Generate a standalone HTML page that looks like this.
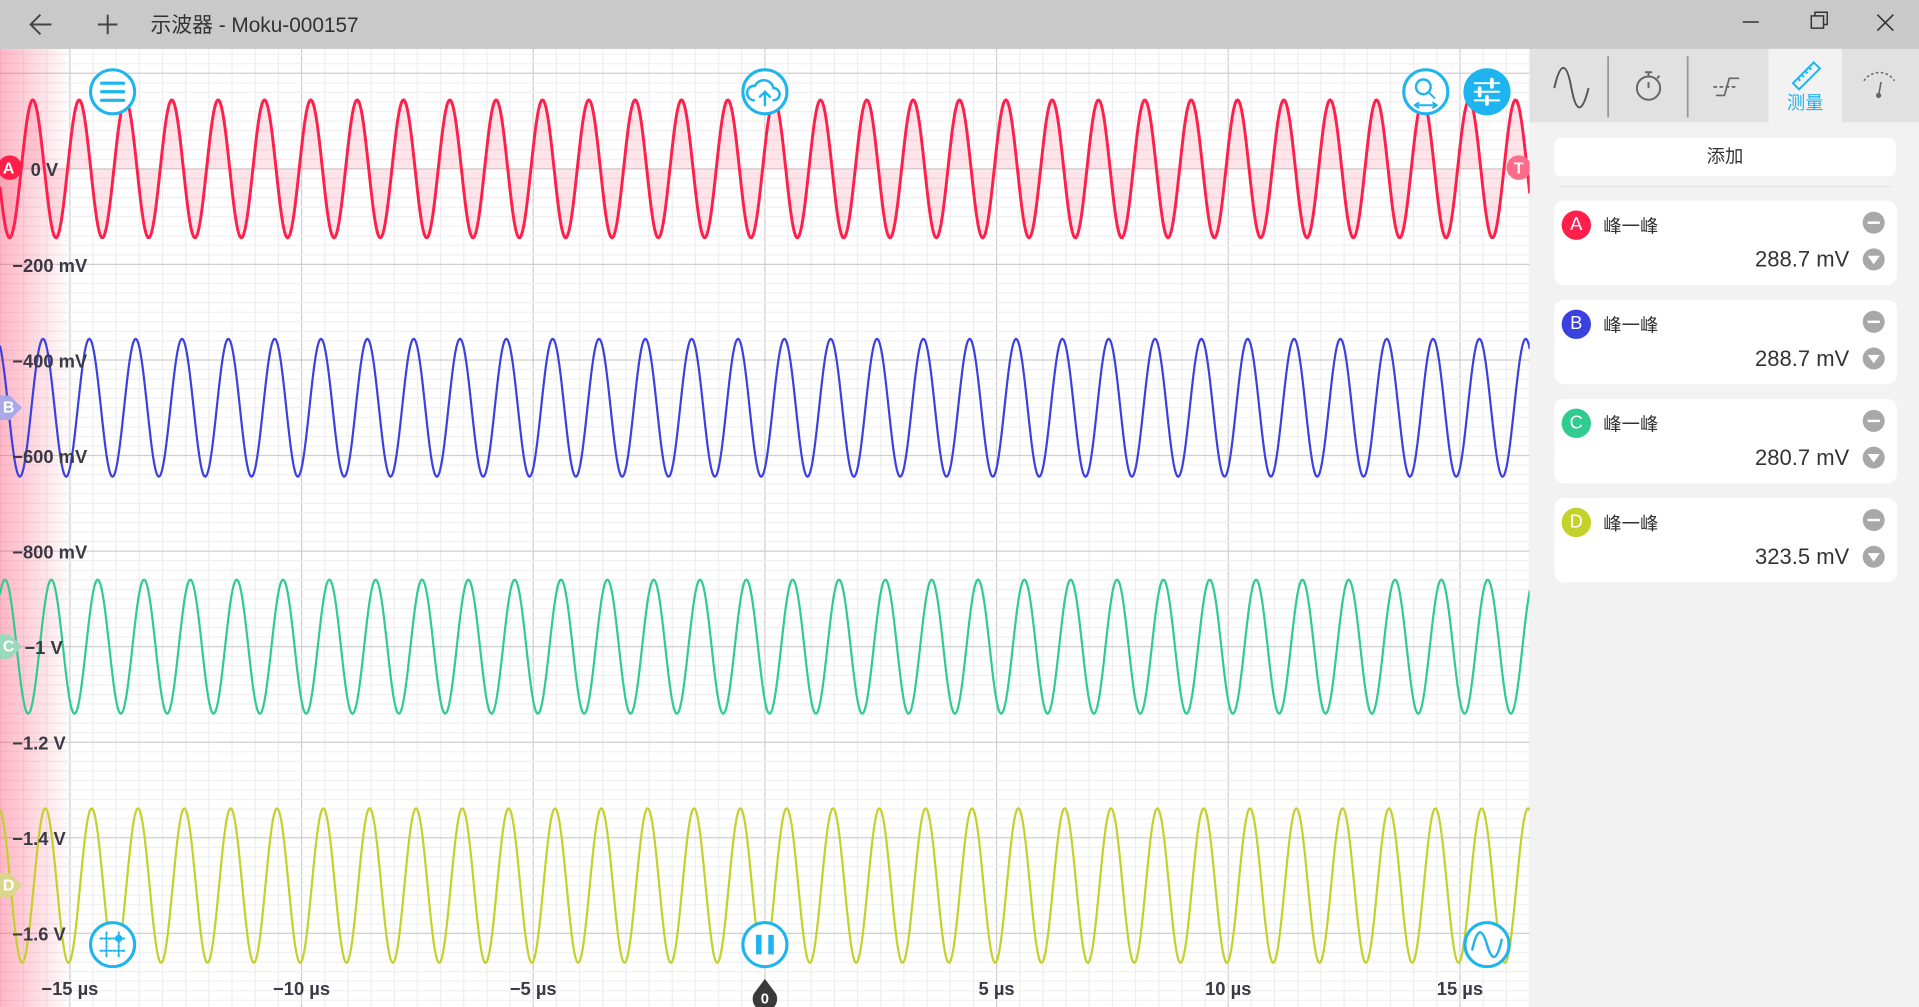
<!DOCTYPE html>
<html><head><meta charset="utf-8"><style>
html,body{margin:0;padding:0;width:1919px;height:1007px;overflow:hidden;background:#fff}
#root{position:absolute;left:0;top:0;width:1568px;height:823px;transform:scale(1.22385,1.2236);transform-origin:0 0;font-family:"Liberation Sans","Noto Sans CJK SC",sans-serif;color:#333}
.abs{position:absolute}
</style></head><body>
<div id="root">
<div class="abs" style="left:0;top:0;width:1568px;height:40px;background:#c9c9c9"></div>
<svg class="abs" style="left:0;top:0" width="1568" height="40">
 <g stroke="#444" stroke-width="1.6" fill="none"><path d="M25 20h17M33 12l-8 8 8 8"/></g>
 <g stroke="#444" stroke-width="1.6"><path d="M88 12v16M80 20h16"/></g>
 <text x="123" y="26" font-size="17" fill="#333" font-family="Liberation Sans,Noto Sans CJK SC,sans-serif">示波器 - Moku-000157</text>
 <g stroke="#333" stroke-width="1.2"><path d="M1424 18h13"/></g>
 <g stroke="#333" stroke-width="1.2" fill="none"><rect x="1480" y="13" width="10" height="10"/><path d="M1483 13v-3h10v10h-3"/></g>
 <g stroke="#333" stroke-width="1.3"><path d="M1534 12l13 13M1547 12l-13 13"/></g>
</svg>

<svg id="plot" class="abs" style="left:0;top:40px" width="1250" height="783" viewBox="0 40 1250 783"></svg>

<div class="abs" style="left:1250px;top:40px;width:318px;height:783px;background:#f2f2f2"></div>
<svg class="abs" style="left:1250px;top:40px" width="318" height="62">
 <rect x="0" y="0" width="318" height="60" fill="#e1e1e1"/>
 <rect x="195" y="0" width="60" height="60" fill="#f2f2f2"/>
 <path d="M64 6v50M129 6v50" stroke="#999" stroke-width="1.5"/>
 <path d="M20 40c5-22 10-22 14 0s9 20 14 0" transform="translate(0,-8)" stroke="#555" stroke-width="1.6" fill="none"/>
 <g stroke="#666" stroke-width="1.6" fill="none"><circle cx="97" cy="32" r="9.5"/><path d="M97 23v-4M94 19h6M97 27v5M104 24l2-2"/></g>
 <g stroke="#666" stroke-width="1.4" fill="none"><path d="M152 38h7l4-14h8"/><path d="M150 31h20" stroke-dasharray="3 2"/></g>
 <g stroke="#1eb4f0" stroke-width="1.6" fill="none"><path d="M215 28l17-17 5 5-17 17z"/><path d="M219 24l2 2M222 21l2 2M225 18l2 2M228 15l2 2"/></g>
 <text x="225" y="49" text-anchor="middle" font-size="15" fill="#1eb4f0" font-family="Liberation Sans,Noto Sans CJK SC,sans-serif">测量</text>
 <g stroke="#666" stroke-width="1.3" fill="none"><path d="M273 26a15 15 0 0 1 25 0" stroke-dasharray="2 2"/><path d="M287 27l-2 11"/><circle cx="285" cy="38" r="1.5" fill="#666"/></g>
</svg>
<div class="abs" style="left:1270px;top:113px;width:279px;height:31px;background:#fff;border-radius:5px;text-align:center;line-height:31px;font-size:15px;font-family:'Liberation Sans','Noto Sans CJK SC',sans-serif">添加</div>
<div class="abs" style="left:1275px;top:152px;width:270px;height:1px;background:#e4e4e4"></div>
<div id="cards"></div>

<script>
// ---- chart data ----
const channels = ['A','B','C','D'];
const offsetsMv = [0, -500, -1000, -1500];
const peakToPeakMv = [288.7, 288.7, 280.7, 323.5];
const freqMHz = [1.0, 1.0, 1.0, 1.0];
const phaseCycles = [0.2, 0.42, 0.6, 0.47];
const colors = ['#ff1f4b','#3b41de','#2fcb8f','#c3d12a'];
const yTickValuesMv = [0,-200,-400,-600,-800,-1000,-1200,-1400,-1600];
const yTickLabels = ['0 V','−200 mV','−400 mV','−600 mV','−800 mV','−1 V','−1.2 V','−1.4 V','−1.6 V'];
const xTickValuesUs = [-15,-10,-5,5,10,15];
const xTickLabels = ['−15 µs','−10 µs','−5 µs','5 µs','10 µs','15 µs'];
const measValues = ['288.7 mV','288.7 mV','280.7 mV','323.5 mV'];

const NS='http://www.w3.org/2000/svg';
const svg=document.getElementById('plot');
const X0=625, PXUS=37.86, Y0=138, PXMV=78.1/200;
const xs=t=>X0+t*PXUS, ys=v=>Y0-v*PXMV;
function mk(tag,attrs,parent){const e=document.createElementNS(NS,tag);for(const k in attrs)e.setAttribute(k,attrs[k]);(parent||svg).appendChild(e);return e;}

// grid
const grid=mk('g',{});


for(let t=-17;t<=17;t+=0.5){const x=xs(t);mk('line',{x1:x,x2:x,y1:40,y2:823,stroke:Number.isInteger(t/5)?'#cfcfcf':'#eeeeee','stroke-width':1},grid);}
for(let v=400;v>=-1800;v-=20){const y=ys(v);mk('line',{x1:0,x2:1250,y1:y,y2:y,stroke:(v%200===0)?'#cfcfcf':'#f0f0f0','stroke-width':1},grid);}
// pink left fade
const defs=mk('defs',{});
const lg=mk('linearGradient',{id:'fade',x1:0,x2:1,y1:0,y2:0},defs);
mk('stop',{offset:0,'stop-color':'#ff3d66','stop-opacity':0.38},lg);
mk('stop',{offset:1,'stop-color':'#ff3d66','stop-opacity':0},lg);
const fade=mk('rect',{x:0,y:40,width:58,height:783,fill:'url(#fade)'});



// traces
channels.forEach((ch,i)=>{
  const pts=[];
  for(let x=0;x<=1250;x+=1){
    const t=(x-X0)/PXUS;
    const v=offsetsMv[i]+peakToPeakMv[i]/2*Math.cos(2*Math.PI*(freqMHz[i]*t-phaseCycles[i]));
    pts.push(x.toFixed(1)+','+ys(v).toFixed(2));
  }
  if(i===0){
    const f=mk('polygon',{points:'0,'+ys(offsetsMv[0])+' '+pts.join(' ')+' 1250,'+ys(offsetsMv[0]),fill:'rgba(255,31,75,0.12)'});
    
    
  }
  const p=mk('polyline',{points:pts.join(' '),fill:'none',stroke:colors[i],'stroke-width':i===0?2.4:1.8,'stroke-linejoin':'round'});
  
  
});

// y labels
yTickValuesMv.forEach((v,i)=>{
  const x=(i===0)?25:(i===5?20:10);
  const t=mk('text',{x:x,y:ys(v)+6,'font-size':15,'font-weight':'bold',fill:'#3a3a44','font-family':'Liberation Sans,sans-serif'});
  t.textContent=yTickLabels[i];
  
  
});
// x labels
xTickValuesUs.forEach((v,i)=>{
  const t=mk('text',{x:xs(v),y:813,'text-anchor':'middle','font-size':15,'font-weight':'bold',fill:'#3a3a44','font-family':'Liberation Sans,sans-serif'});
  t.textContent=xTickLabels[i];
  
  
});
// zero time marker
const zm=mk('g',{});


mk('path',{d:'M625 800 L634 812 A10 10 0 1 1 616 812 Z',fill:'#3a3a3a'},zm);
const zt=mk('text',{x:625,y:820,'text-anchor':'middle','font-size':12,'font-weight':'bold',fill:'#fff'},zm);zt.textContent='0';

// channel markers
const markerFill=['#ff1f4b','#a9a8e8','#9bd9bd','#dcd68c'];
channels.forEach((ch,i)=>{
  const y=ys(offsetsMv[i]);
  const g=mk('g',{});
  
  
  if(i===0) mk('circle',{cx:8,cy:y-1,r:10,fill:markerFill[i]},g);
  else mk('path',{d:`M-2 ${y-10} H8 L18 ${y} L8 ${y+10} H-2 Z`,fill:markerFill[i]},g);
  const t=mk('text',{x:7,y:y+4,'text-anchor':'middle','font-size':13,'font-weight':'bold',fill:'#fff'},g);t.textContent=ch;
});
const tm=mk('g',{});


mk('circle',{cx:1241,cy:137,r:10,fill:'#ff6b8a'},tm);
const tt=mk('text',{x:1241,y:142,'text-anchor':'middle','font-size':13,'font-weight':'bold',fill:'#fff'},tm);tt.textContent='T';

// round buttons
function btn(name,cx,cy,filled,inner){
  const g=mk('g',{});
  
  
  mk('circle',{cx,cy,r:18,fill:filled?'#1eb4f0':'#fff',stroke:'#1eb4f0','stroke-width':2.5},g);
  const ig=mk('g',{stroke:filled?'#fff':'#1eb4f0','stroke-width':2,fill:'none','stroke-linecap':'round'},g);
  ig.innerHTML=inner;
}
btn('menu-button',92,75,false,'<path d="M83 68h18M83 75h18M83 82h18" stroke-width="2.6"/>');
btn('export-button',625,75,false,'<path d="M616 82a6 6 0 0 1 1-12a8 8 0 0 1 15 2a5 5 0 0 1 0 10"/><path d="M625 86v-11M621 79l4-4 4 4"/>');
btn('zoom-button',1165,75,false,'<circle cx="1163" cy="71" r="6"/><path d="M1167 75l5 5M1156 86h18M1156 86l3-2M1156 86l3 2M1174 86l-3-2M1174 86l-3 2" stroke-width="1.6"/>');
btn('settings-button',1215,75,true,'<path d="M1205 68h20M1205 75h20M1205 82h20" stroke-width="1.6"/><path d="M1219 65v6M1209 72v6M1215 79v6" stroke-width="3"/>');
btn('grid-button',92,772,false,'<path d="M87 762v20M97 762v20M82 767h20M82 777h20" stroke-width="1.6" stroke-dasharray="2 1.5"/><circle cx="97" cy="767" r="2" fill="#1eb4f0"/>');
btn('pause-button',625,772,false,'<path d="M620 764v16M630 764v16" stroke-width="4.5" stroke-linecap="butt"/>');
btn('math-channel-button',1215,772,false,'<path d="M1203 776c4-18 8-18 12-4s8 14 12-4" stroke-width="2"/>');

// measurement cards
const cards=document.getElementById('cards');
channels.forEach((ch,i)=>{
  const top=164+i*81;
  const c=document.createElement('div');
  c.className='abs';
  
  
  c.style.cssText=`left:1270px;top:${top}px;width:280px;height:69px;background:#fff;border-radius:8px`;
  c.innerHTML=`<div style="position:absolute;left:6px;top:8px;width:24px;height:24px;border-radius:12px;background:${colors[i]};color:#fff;text-align:center;line-height:24px;font-size:15px">${ch}</div>
<div style="position:absolute;left:40px;top:10px;font-size:15px;font-family:'Liberation Sans','Noto Sans CJK SC',sans-serif;color:#333">峰一峰</div>
<div style="position:absolute;left:252px;top:9px;width:18px;height:18px;border-radius:9px;background:#a8a8a8"><div style="position:absolute;left:4px;top:8px;width:10px;height:2px;background:#fff"></div></div>
<div style="position:absolute;right:39px;top:38px;font-size:18px;color:#333">${measValues[i]}</div>
<div style="position:absolute;left:252px;top:39px;width:18px;height:18px;border-radius:9px;background:#a8a8a8"><div style="position:absolute;left:4px;top:6px;width:0;height:0;border-left:5px solid transparent;border-right:5px solid transparent;border-top:7px solid #fff"></div></div>`;
  cards.appendChild(c);
});
</script>
</div>
</body></html>
